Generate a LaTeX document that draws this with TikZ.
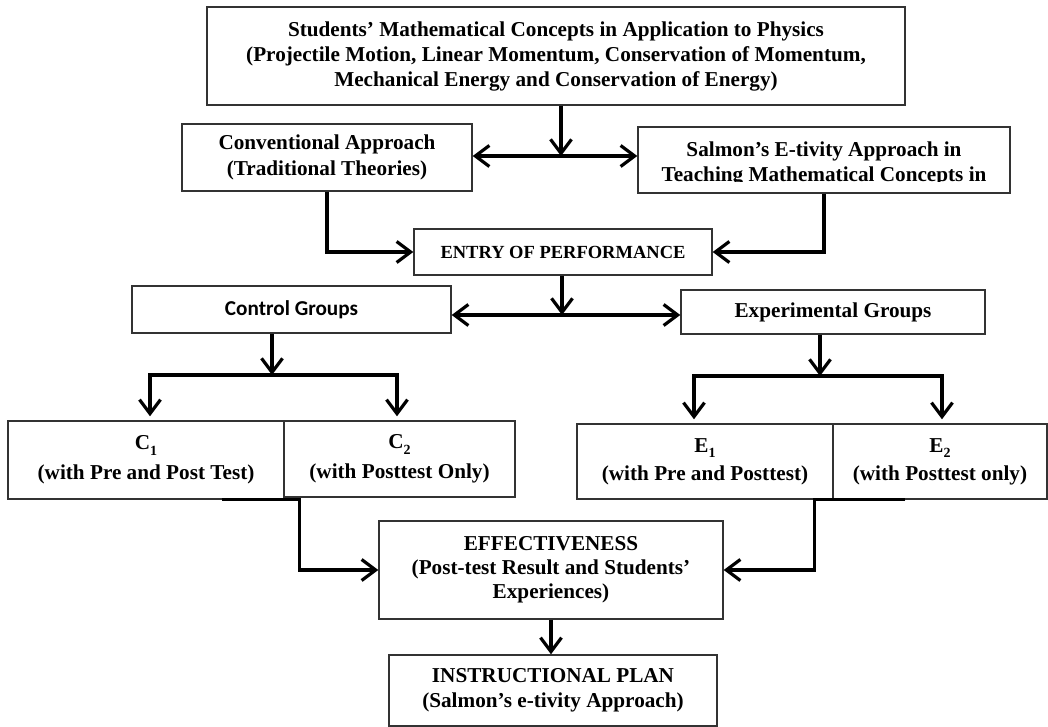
\documentclass[tikz,border=0pt]{standalone}
\usepackage{fontspec}
\setmainfont{Liberation Serif}
\newfontfamily\calibrifont{Carlito}
\usetikzlibrary{arrows.meta,calc}
\newcommand{\lowsub}[1]{\raisebox{-0.55ex}{\fontsize{7}{7}\selectfont #1}}
\tikzset{
  every picture/.style={line join=miter, >={Straight Barb[length=7pt,width=10.5pt]}},
  box/.style={draw=black!80, line width=0.7pt, inner sep=0pt, align=center,
    font=\bfseries\fontsize{10.6}{12.5}\selectfont},
  flow/.style={line width=1.6pt, ->},
}

\begin{document}
\begin{tikzpicture}[x=0.5pt,y=-0.5pt]
\useasboundingbox (0,0) rectangle (1048,727);
\node[box,minimum width=349pt,minimum height=49pt] (top) at (556,56)
  {Students' Mathematical Concepts in Application to Physics\\(Projectile Motion, Linear Momentum, Conservation of Momentum,\\Mechanical Energy and Conservation of Energy)};
\node[box,minimum width=145pt,minimum height=33.5pt,font=\bfseries\fontsize{10.6}{13}\selectfont] (conv) at (327,157.5)
  {Conventional Approach\\(Traditional Theories)};
\node[box,minimum width=186pt,minimum height=33pt] (salmon) at (824,160) {};
\coordinate (cut) at (0,182);
\begin{scope}
\clip (salmon.north west) rectangle (salmon.east |- cut);
\node[anchor=base,align=center,inner sep=0pt,font=\bfseries\fontsize{10.6}{12.5}\selectfont] (salmontext) at (824,182)
  {Salmon's E-tivity Approach in\\Teaching Mathematical Concepts in};
\end{scope}
\node[box,minimum width=149pt,minimum height=23pt,font=\bfseries\fontsize{9.25}{11}\selectfont] (entry) at (563,252) {ENTRY OF PERFORMANCE};
\node[box,minimum width=159.5pt,minimum height=23.5pt,font=\calibrifont\bfseries\fontsize{10.6}{12.5}\selectfont] (control) at (291.5,309.5) {Control Groups};
\node[box,minimum width=152pt,minimum height=22pt] (exper) at (833,312) {Experimental Groups};
\node[box,minimum width=138pt,minimum height=39pt] (c1) at (146,460) {C\lowsub{1}\\[2.5pt](with Pre and Post Test)};
\node[box,minimum width=115.5pt,minimum height=38pt] (c2) at (399.5,459) {C\lowsub{2}\\[2.5pt](with Posttest Only)};
\node[box,minimum width=128pt,minimum height=37.5pt] (e1) at (705,461.5) {E\lowsub{1}\\[1.5pt](with Pre and Posttest)};
\node[box,minimum width=107pt,minimum height=37.5pt] (e2) at (940,461.5) {E\lowsub{2}\\[1.5pt](with Posttest only)};
\node[box,minimum width=172pt,minimum height=49pt,font=\bfseries\fontsize{10.6}{12}\selectfont] (eff) at (551,570)
  {EFFECTIVENESS\\(Post-test Result and Students'\\Experiences)};
\node[box,minimum width=164pt,minimum height=35.5pt] (plan) at (553,690.5)
  {INSTRUCTIONAL PLAN\\(Salmon's e-tivity Approach)};
\coordinate (j1) at (561,156);
\draw[flow] (j1 |- top.south) -- (j1);
\draw[flow,<->] (conv.east |- j1) -- (salmon.west |- j1);
\draw[flow] (conv.south) |- (entry.west);
\draw[flow] (salmon.south) |- (entry.east);
\coordinate (j2) at (562,315);
\draw[flow] (j2 |- entry.south) -- (j2);
\draw[flow,<->] (control.east |- j2) -- (exper.west |- j2);
\coordinate (j3) at (272,375);
\draw[flow] (j3 |- control.south) -- (j3);
\draw[flow,shorten >=2pt] (j3) -| ($(c1.north)+(4,0)$);
\draw[flow,shorten >=2pt] (j3) -| ($(c2.north)+(-2.5,0)$);
\coordinate (j4) at (820,376);
\draw[flow] (j4 |- exper.south) -- (j4);
\draw[flow,shorten >=2pt] (j4) -| ($(e1.north)+(-11,0)$);
\draw[flow,shorten >=2pt] (j4) -| ($(e2.north)+(2,0)$);
\coordinate (k1) at ($(c1.south east)+(15,0)$);
\draw[flow] ($(c1.south east)+(-63,0)$) -- (k1) |- (eff.west);
\coordinate (k2) at ($(e2.south west)+(-18,0)$);
\draw[flow] ($(e2.south west)+(73,0)$) -- (k2) |- (eff.east);
\draw[flow] (eff.south) -- (eff.south |- plan.north);
\end{tikzpicture}
\end{document}
